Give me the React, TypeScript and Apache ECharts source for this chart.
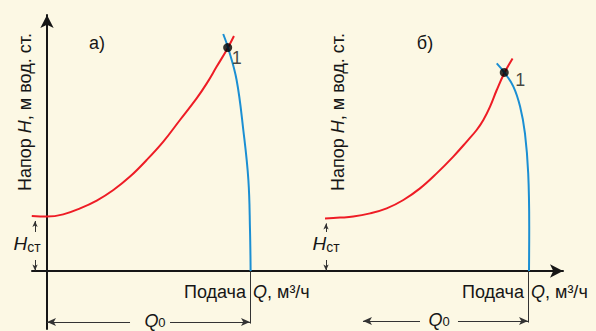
import React, { useEffect, useRef } from "react";
import * as echarts from "echarts";

// Panel а) — system curve (red) and pump curve (blue), Q and H in relative units
const redA: [number, number][] = [
  [-7.5, 27.5], [0, 27.2], [8.0, 28.3], [16.3, 31.3], [24.5, 35.2], [32.7, 40.5],
  [40.9, 47.2], [49.1, 55.5], [57.3, 64.7], [65.5, 75.5], [73.7, 86.3], [78.7, 93.8],
  [83.6, 102.2], [88.5, 110.5], [92.1, 117.5],
];
const blueA: [number, number][] = [
  [86.8, 118.5], [89.3, 111.3], [93.4, 95.5], [96.7, 70.5], [99.2, 45.5],
  [100, 20.5], [100.3, 0],
];
const point1A: [number, number] = [89, 111.7];

// Panel б)
const redB: [number, number][] = [
  [0, 26.3], [7.4, 26.7], [13.9, 27.2], [22.2, 28.8], [30.4, 31.3], [38.6, 35.5],
  [46.8, 41.3], [55.0, 48.8], [63.2, 57.2], [69.8, 64.7], [74.7, 70.5], [78.0, 75.5],
  [81.3, 82.2], [84.6, 90.5], [88.3, 98.9], [92.4, 106.3],
];
const blueB: [number, number][] = [
  [84.6, 103.8], [88.3, 99.3], [92.8, 92.2], [96.1, 82.2], [98.5, 68.8],
  [100.1, 48.8], [100.6, 22.2], [100.5, 0],
];
const point1B: [number, number] = [88.3, 99.3];

const Q0 = [100, 100];
const hSt = [27.5, 26.3];
const dimLevel = [-25.5, -25];
const dimStart = [0, 18.7];
const dimGap = [[40.9, 60.6], [46.8, 65.5]];
const dimText = [53.2, 56.2];
const hStX = [-5.9, 0.5];
const panelLabels = ["а)", "б)"];
const yTitle = "Напор {i|H}, м вод. ст.";
const xTitleLeft = "Подача";
const xTitleRight = "{i|Q}, м³/ч";
const pointLabel = "1";

const BG = "#fcf8e4";
const RED = "#ee1c25";
const BLUE = "#1b8fd3";
const INK = "#161616";
const FONT = "'Liberation Sans', Arial, sans-serif";
const FS = 18;

function panelSeries(i: number, red: [number, number][], blue: [number, number][], p1: [number, number], p1Offset: number[]) {
  const ax = { xAxisIndex: i, yAxisIndex: i };
  const lvl = dimLevel[i];
  const thin = { color: "#333", width: 1, type: "solid" as const };
  return [
    {
      type: "line", ...ax, data: red, smooth: 0.4, showSymbol: false,
      lineStyle: { color: RED, width: 2 }, z: 3,
    },
    {
      type: "line", ...ax, data: blue, smooth: 0.4, showSymbol: false,
      lineStyle: { color: BLUE, width: 2 }, z: 3,
    },
    {
      type: "scatter", ...ax, data: [p1], symbolSize: 9, itemStyle: { color: "#000" }, z: 5,
      label: {
        show: true, formatter: pointLabel, position: "inside", offset: p1Offset,
        color: INK, fontSize: FS, fontFamily: FONT,
      },
    },
    {
      // Q0 dimension line with arrows, guide line and Hст arrows
      type: "scatter", ...ax, data: [], silent: true,
      markLine: {
        silent: true, animation: false, symbolSize: [6, 9],
        label: { show: false }, lineStyle: thin,
        data: [
          [{ coord: [dimStart[i], lvl], symbol: "arrow" }, { coord: [dimGap[i][0], lvl], symbol: "none" }],
          [{ coord: [dimGap[i][1], lvl], symbol: "none" }, { coord: [Q0[i], lvl], symbol: "arrow" }],
          [{ coord: [Q0[i], 0], symbol: "none" }, { coord: [Q0[i], lvl - 0.8], symbol: "none" }],
          [{ coord: [hStX[i], 19.5], symbol: "none" }, { coord: [hStX[i], hSt[i] - 2.5], symbol: "arrow", symbolSize: [4, 6] }],
          [{ coord: [hStX[i], 5.5], symbol: "none" }, { coord: [hStX[i], 0.3], symbol: "arrow", symbolSize: [4, 6] }],
        ],
      },
      markPoint: {
        silent: true, animation: false, symbol: "circle", symbolSize: 0,
        data: [
          {
            coord: [Q0[i], -10.5],
            label: { show: true, position: "left", distance: 4, formatter: xTitleLeft, color: INK, fontSize: FS, fontFamily: FONT },
          },
          {
            coord: [Q0[i], -10.5],
            label: {
              show: true, position: "right", distance: 3, formatter: xTitleRight, color: INK, fontSize: FS, fontFamily: FONT,
              rich: { i: { fontStyle: "italic", fontSize: FS, fontFamily: FONT, color: INK } },
            },
          },
          {
            coord: [dimText[i], lvl + 0.6],
            label: {
              show: true, position: "inside", formatter: "{q|Q}{s|0}",
              rich: {
                q: { fontStyle: "italic", fontSize: FS, lineHeight: 17, fontFamily: FONT, color: INK },
                s: { fontSize: 13, lineHeight: 10, verticalAlign: "bottom", fontFamily: FONT, color: INK },
              },
            },
          },
          {
            coord: [hStX[i], 14],
            label: {
              show: true, position: "inside", offset: [i === 0 ? -8 : 0, 0], formatter: "{h|H}{s|ст}",
              rich: {
                h: { fontStyle: "italic", fontSize: 19, lineHeight: 22, fontFamily: FONT, color: INK },
                s: { fontSize: 14, lineHeight: 14, verticalAlign: "bottom", fontFamily: FONT, color: INK },
              },
            },
          },
        ],
      },
    },
  ];
}

export default function App() {
  const ref = useRef<HTMLDivElement>(null);
  useEffect(() => {
    if (!ref.current) return;
    const chart = echarts.init(ref.current, null, { renderer: "svg" });
    const axisLine = { color: INK, width: 2 };
    const hidden = { axisTick: { show: false }, axisLabel: { show: false }, splitLine: { show: false } };
    const yTitleText = (x: number) => ({
      type: "text", x, y: 112, rotation: Math.PI / 2,
      style: {
        text: yTitle, fill: INK, font: `${FS}px ${FONT}`, align: "center", verticalAlign: "middle",
        rich: { i: { fontStyle: "italic", fontSize: FS, fontFamily: FONT, fill: INK } },
      },
    });
    chart.setOption({
      animation: false,
      backgroundColor: BG,
      grid: [
        { left: 32, top: 15, width: 268, height: 314 },
        { left: 300, top: 15, width: 263, height: 314 },
      ],
      xAxis: [
        { gridIndex: 0, type: "value", min: -7.39, max: 124.63, axisLine: { onZero: true, lineStyle: axisLine }, ...hidden },
        {
          gridIndex: 1, type: "value", min: -12.32, max: 117.24,
          axisLine: { onZero: true, lineStyle: axisLine, symbol: ["none", "arrow"], symbolSize: [10, 13] }, ...hidden,
        },
      ],
      yAxis: [
        {
          gridIndex: 0, type: "value", min: -29, max: 128,
          axisLine: { onZero: true, lineStyle: axisLine, symbol: ["none", "arrow"], symbolSize: [10, 13] }, ...hidden,
        },
        { gridIndex: 1, type: "value", min: -29, max: 128, show: false },
      ],
      graphic: [
        yTitleText(25),
        yTitleText(338),
        { type: "text", x: 97, y: 43, style: { text: panelLabels[0], fill: INK, font: `${FS}px ${FONT}`, align: "center", verticalAlign: "middle" } },
        { type: "text", x: 425, y: 43, style: { text: panelLabels[1], fill: INK, font: `${FS}px ${FONT}`, align: "center", verticalAlign: "middle" } },
      ],
      series: [
        ...panelSeries(0, redA, blueA, point1A, [9, 10]),
        ...panelSeries(1, redB, blueB, point1B, [16, 8]),
      ],
    });
    return () => chart.dispose();
  }, []);
  return <div ref={ref} style={{ position: "absolute", left: 0, top: 0, width: 596, height: 331 }} />;
}
